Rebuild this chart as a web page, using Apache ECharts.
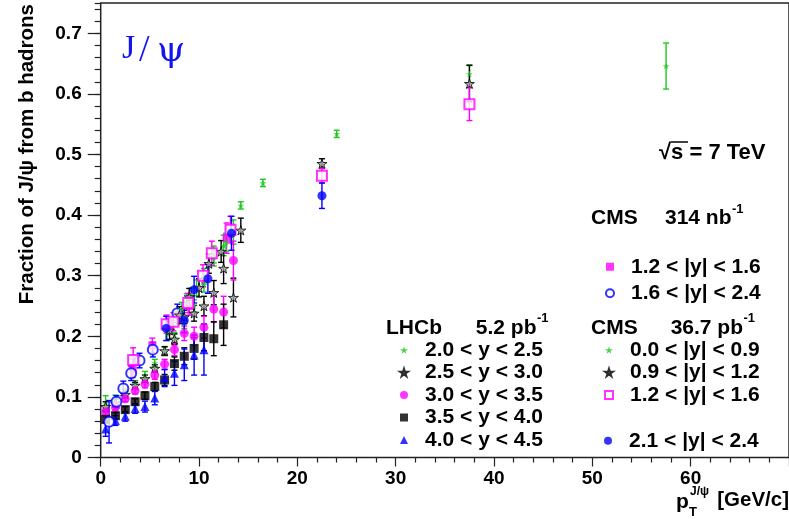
<!DOCTYPE html>
<html><head><meta charset="utf-8">
<script src="https://cdn.jsdelivr.net/npm/echarts@6/dist/echarts.min.js"></script>
<style>html,body{margin:0;padding:0;background:#fff}#c{width:789px;height:519px}</style>
</head><body><div id="c"></div><script>
// ---- data ----
const lhcbPt = [0.5,1.5,2.5,3.5,4.5,5.5,6.5,7.5,8.5,9.5,10.5,11.5,12.5,13.5];
const lhcb1Val = [0.088,0.095,0.107,0.121,0.136,0.156,0.175,0.198,0.222,0.250,0.285,0.335,0.350,0.372];
const lhcb1Err = [0.014,0.008,0.006,0.006,0.006,0.006,0.007,0.008,0.009,0.010,0.012,0.014,0.017,0.020];
const lhcb2Val = [0.084,0.090,0.104,0.119,0.130,0.147,0.176,0.195,0.232,0.238,0.250,0.272,0.312,0.264];
const lhcb2Err = [0.008,0.006,0.005,0.005,0.006,0.006,0.007,0.009,0.011,0.013,0.016,0.020,0.025,0.032];
const lhcb3Val = [0.075,0.083,0.097,0.110,0.121,0.136,0.154,0.178,0.205,0.200,0.215,0.245,0.240,0.325];
const lhcb3Err = [0.006,0.005,0.005,0.005,0.006,0.007,0.008,0.010,0.012,0.015,0.018,0.022,0.026,0.032];
const lhcb4Pt = [0.5,1.5,2.5,3.5,4.5,5.5,6.5,7.5,8.5,9.5,10.5,11.5,12.5];
const lhcb4Val = [0.063,0.069,0.079,0.092,0.102,0.117,0.128,0.155,0.167,0.180,0.198,0.196,0.219];
const lhcb4Err = [0.006,0.005,0.005,0.005,0.006,0.007,0.009,0.011,0.014,0.018,0.022,0.028,0.034];
const lhcb5Pt = [0.5,1.5,2.5,3.5,4.5,5.5,6.5,7.5,8.5,9.5,10.5];
const lhcb5Val = [0.047,0.061,0.068,0.081,0.084,0.098,0.131,0.139,0.153,0.169,0.178];
const lhcb5Err = [0.012,0.008,0.008,0.008,0.009,0.011,0.014,0.020,0.026,0.033,0.042];

const cms314mPt = [3.25,5.25,7.0,9.0,12.8];
const cms314mVal = [0.147,0.185,0.215,0.250,0.362];
const cms314mErr = [0.015,0.012,0.012,0.015,0.025];
const cms314bPt = [0.85,1.6,2.3,3.1,3.95,5.3,7.8];
const cms314bVal = [0.059,0.092,0.114,0.139,0.160,0.178,0.238];
const cms314bErr = [0.035,0.010,0.012,0.012,0.012,0.012,0.015];

const cmsGPt = [6.75,7.25,7.75,8.25,8.75,9.25,9.75,10.5,11.5,12.75,14.25,16.5,24.0,37.5,57.5];
const cmsGVal = [0.205,0.215,0.230,0.245,0.258,0.268,0.280,0.300,0.330,0.355,0.416,0.453,0.534,0.633,0.646];
const cmsGErr = [0.012,0.011,0.011,0.011,0.012,0.012,0.013,0.012,0.014,0.015,0.006,0.006,0.006,0.015,0.038];
const cmsKPt = [7.0,8.0,9.0,10.0,11.0,12.25,14.25,22.5,37.5];
const cmsKVal = [0.210,0.235,0.265,0.280,0.320,0.340,0.375,0.485,0.617];
const cmsKErr = [0.015,0.014,0.014,0.015,0.016,0.018,0.020,0.008,0.030];
const cmsMPt = [3.3,6.7,7.4,8.9,10.4,11.3,13.2,22.5,37.5];
const cmsMVal = [0.161,0.220,0.224,0.255,0.300,0.337,0.376,0.465,0.583];
const cmsMErr = [0.020,0.015,0.015,0.016,0.018,0.020,0.022,0.012,0.027];
const cmsBPt = [6.66,8.5,9.5,10.9,13.3,22.5];
const cmsBVal = [0.213,0.226,0.277,0.295,0.370,0.432];
const cmsBErr = [0.020,0.020,0.022,0.024,0.028,0.021];

const legendLabels = {
  l1:'2.0 < y < 2.5', l2:'2.5 < y < 3.0', l3:'3.0 < y < 3.5', l4:'3.5 < y < 4.0', l5:'4.0 < y < 4.5',
  cG:'0.0 < |y| < 0.9', cK:'0.9 < |y| < 1.2', cM:'1.2 < |y| < 1.6', cB:'2.1 < |y| < 2.4',
  m314:'1.2 < |y| < 1.6', b314:'1.6 < |y| < 2.4'
};

// ---- chart ----
const STAR = 'path://M50,0 L61,35 L98,35 L68,57 L79,91 L50,70 L21,91 L32,57 L2,35 L39,35 Z';
const GREEN = '#1ec81e', MAG = '#ff00ff', BLUE = '#0000ff', BLK = '#000000';
const FONT = '"Liberation Sans", Arial, sans-serif';
const series = [];
function addSet(name, xs, ys, es, errColor, symbol, size, itemStyle) {
  series.push({
    name: name + '_err', type: 'custom', silent: true,
    data: xs.map((x, i) => [x, ys[i] - es[i], ys[i] + es[i]]),
    renderItem: function (params, api) {
      const x = api.value(0);
      const p1 = api.coord([x, api.value(1)]);
      const p2 = api.coord([x, api.value(2)]);
      const st = { stroke: errColor, lineWidth: 1.4 };
      return { type: 'group', children: [
        { type: 'line', shape: { x1: p1[0], y1: p1[1], x2: p2[0], y2: p2[1] }, style: st },
        { type: 'line', shape: { x1: p1[0] - 3, y1: p1[1], x2: p1[0] + 3, y2: p1[1] }, style: st },
        { type: 'line', shape: { x1: p2[0] - 3, y1: p2[1], x2: p2[0] + 3, y2: p2[1] }, style: st }
      ]};
    }
  });
  series.push({
    name: name, type: 'scatter', symbol: symbol, symbolSize: size, symbolKeepAspect: true,
    data: xs.map((x, i) => [x, ys[i]]), itemStyle: itemStyle, silent: true
  });
}
addSet('l1', lhcbPt, lhcb1Val, lhcb1Err, GREEN, STAR, 7, { color: GREEN });
addSet('l2', lhcbPt, lhcb2Val, lhcb2Err, BLK, STAR, 10, { color: '#aaa', borderColor: BLK, borderWidth: 1 });
addSet('l3', lhcbPt, lhcb3Val, lhcb3Err, MAG, 'circle', 9, { color: MAG });
addSet('l4', lhcb4Pt, lhcb4Val, lhcb4Err, BLK, 'rect', 9, { color: BLK });
addSet('l5', lhcb5Pt, lhcb5Val, lhcb5Err, BLUE, 'triangle', 9, { color: BLUE });
addSet('m314', cms314mPt, cms314mVal, cms314mErr, MAG, 'rect', 8, { color: MAG });
addSet('b314', cms314bPt, cms314bVal, cms314bErr, BLUE, 'emptyCircle', 10, { color: BLUE, borderWidth: 1.2 });
addSet('cG', cmsGPt, cmsGVal, cmsGErr, GREEN, STAR, 7, { color: GREEN });
addSet('cK', cmsKPt, cmsKVal, cmsKErr, BLK, STAR, 10, { color: '#aaa', borderColor: BLK, borderWidth: 1 });
addSet('cM', cmsMPt, cmsMVal, cmsMErr, MAG, 'emptyRect', 10, { color: MAG, borderWidth: 1.2 });
addSet('cB', cmsBPt, cmsBVal, cmsBErr, BLUE, 'circle', 9, { color: BLUE });

const legTxt = { color: '#000', fontSize: 21, fontWeight: 'bold', fontFamily: FONT, lineHeight: 22.5, padding: [0, 0, 0, 12] };
function leg(iconCenterX, top, names, gap) {
  return { show: true, orient: 'vertical', left: iconCenterX - 4, top: top, padding: 0, itemGap: gap || 0,
    itemWidth: 8, itemHeight: 8, symbolKeepAspect: true, selectedMode: false, data: names, textStyle: legTxt,
    formatter: n => legendLabels[n] };
}
const T = (x, y, text, size, extra) => Object.assign({ type: 'text', x: x, y: y,
  style: Object.assign({ text: text, fill: '#000', font: 'bold ' + size + 'px ' + FONT, verticalAlign: 'middle' }, extra || {}) });

const chart = echarts.init(document.getElementById('c'), null, { renderer: 'canvas' });
chart.setOption({
  animation: false,
  backgroundColor: '#fff',
  grid: { left: 100.7, top: 3, width: 690.7, height: 454.5, show: true, borderColor: '#222', borderWidth: 1.5 },
  xAxis: [{
    type: 'value', min: 0, max: 70, interval: 10,
    axisLine: { show: false },
    axisTick: { length: 9, lineStyle: { color: '#222', width: 1.2 } },
    minorTick: { show: true, splitNumber: 5, length: 5, lineStyle: { color: '#222', width: 1.2 } },
    axisLabel: { margin: 12, fontSize: 19, fontWeight: 'bold', color: '#000', fontFamily: FONT, showMaxLabel: false },
    splitLine: { show: false }
  }],
  yAxis: [{
    type: 'value', min: 0, max: 0.75, interval: 0.1,
    axisLine: { show: false },
    axisTick: { length: 13, lineStyle: { color: '#222', width: 1.2 } },
    axisLabel: { margin: 19, fontSize: 19, fontWeight: 'bold', color: '#000', fontFamily: FONT, showMaxLabel: false },
    splitLine: { show: false }
  }, {
    type: 'value', min: 0, max: 0.75, interval: 0.02, position: 'left',
    axisLine: { show: false },
    axisTick: { length: 6, lineStyle: { color: '#222', width: 1.2 } },
    axisLabel: { show: false }, splitLine: { show: false }
  }],
  legend: [
    leg(403, 338.75, ['l1','l2','l3','l4','l5']),
    leg(608, 338.75, ['cG','cK','cM']),
    leg(608, 429.5, ['cB']),
    leg(609, 255.5, ['m314','b314'], 4)
  ],
  series: series,
  graphic: [
    T(27, 4, 'Fraction of J/\u03c8 from b hadrons', 20.5, { align: 'right' }),
    T(386, 328, 'LHCb', 21), T(536.5, 328, '5.2 pb', 21, { align: 'right' }), T(537, 318, '-1', 13),
    T(591, 328, 'CMS', 21), T(743, 328, '36.7 pb', 21, { align: 'right' }), T(743.5, 318, '-1', 13),
    T(591, 218, 'CMS', 21), T(731.5, 218, '314 nb', 21, { align: 'right' }), T(732, 209, '-1', 13),
    T(659, 153, '\u221As = 7 TeV', 22),
    { type: 'line', shape: { x1: 671, y1: 142, x2: 688, y2: 142 }, style: { stroke: '#000', lineWidth: 1.5 } },
    T(676, 502, 'p', 21), T(690, 492, 'J/\u03c8', 12), T(689, 512, 'T', 13),
    T(789, 500, '[GeV/c]', 20.5, { align: 'right' }),
    { type: 'text', x: 122, y: 49, style: { text: 'J', fill: '#1414f0', font: '34px "Liberation Serif", serif', verticalAlign: 'middle' } },
    { type: 'text', x: 139, y: 51, style: { text: '/', fill: '#1414f0', font: '38px "Liberation Serif", serif', verticalAlign: 'middle' } },
    { type: 'text', x: 157, y: 52, style: { text: '\u03c8', fill: '#1414f0', font: '36px "DejaVu Serif", serif', verticalAlign: 'middle' } }
  ]
});
// rotate y title
const opt = chart.getOption();
opt.graphic[0].elements[0].rotation = Math.PI / 2;
chart.setOption({ graphic: opt.graphic });
</script></body></html>
